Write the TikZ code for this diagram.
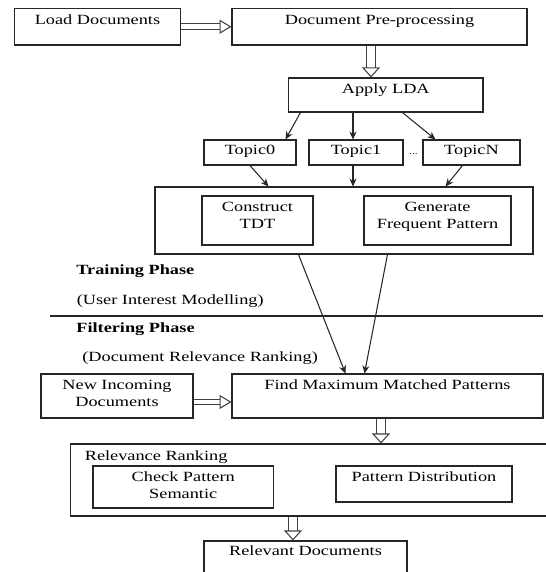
\documentclass[tikz,border=0pt]{standalone}
\usepackage{fontspec}
\setmainfont{Liberation Serif}[FakeStretch=1.3]
\usetikzlibrary{arrows.meta}

\tikzset{
  box/.style={draw=black!85, line width=0.6pt, inner sep=0pt},
  txt/.style={anchor=base, inner sep=0pt, align=center, text=black},
  arr/.style={draw=black!85, line width=0.6pt, -{Stealth[length=4.5pt,width=4pt]}},
  hollowh/.style={draw=black!75, line width=0.6pt, double=white, double distance=2.6pt, -{Triangle[open,length=6.8pt,width=8pt]}},
  hollowv/.style={draw=black!75, line width=0.6pt, double=white, double distance=5pt, -{Triangle[open,length=5.7pt,width=10.2pt]}}
}

\begin{document}
\begin{tikzpicture}[font=\fontsize{8}{9.7}\selectfont]
\useasboundingbox (0,0) rectangle (10.9,11.44);

\node[box, minimum width=3.31cm, minimum height=0.73cm] (load) at (1.95,10.905) {};
\node[box, minimum width=5.90cm, minimum height=0.73cm] (prep) at (7.59,10.905) {};
\node[box, minimum width=3.89cm, minimum height=0.68cm] (lda) at (7.715,9.54) {};
\node[box, minimum width=1.84cm, minimum height=0.50cm] (topic0) at (5.0,8.39) {};
\node[box, minimum width=1.88cm, minimum height=0.50cm] (topic1) at (7.12,8.39) {};
\node[box, minimum width=1.94cm, minimum height=0.50cm] (topicN) at (9.43,8.39) {};
\node[box, minimum width=7.56cm, minimum height=1.34cm] (train) at (6.88,7.03) {};
\node[box, minimum width=2.22cm, minimum height=0.98cm] (tdt) at (5.15,7.03) {};
\node[box, minimum width=2.94cm, minimum height=0.98cm] (gen) at (8.75,7.03) {};
\node[box, minimum width=3.04cm, minimum height=0.88cm] (new) at (2.34,3.52) {};
\node[box, minimum width=6.22cm, minimum height=0.88cm] (find) at (7.75,3.52) {};
\node[box, minimum width=9.53cm, minimum height=1.44cm] (rank) at (6.175,1.84) {};
\node[box, minimum width=3.61cm, minimum height=0.84cm] (check) at (3.665,1.70) {};
\node[box, minimum width=3.52cm, minimum height=0.72cm] (dist) at (8.48,1.76) {};
\node[box, minimum width=4.06cm, minimum height=0.68cm] (rel) at (6.11,0.28) {};

\node[txt] (loadt) at ([yshift=-0.33cm]load.north) {Load Documents};
\node[txt] (prept) at ([yshift=-0.33cm]prep.north) {Document Pre-processing};
\node[txt] (ldat) at ([yshift=-0.32cm]lda.north) {Apply LDA};
\node[txt] (topic0t) at ([yshift=-0.30cm]topic0.north) {Topic0};
\node[txt] (topic1t) at ([yshift=-0.30cm]topic1.north) {Topic1};
\node[txt] (topicNt) at ([yshift=-0.30cm]topicN.north) {TopicN};
\node[txt, font=\fontsize{5}{6}\selectfont] (dots) at (8.27,8.34) {...};
\node[txt] (tdtt) at ([yshift=-0.67cm]tdt.north) {Construct\\TDT};
\node[txt] (gent) at ([yshift=-0.67cm]gen.north) {Generate\\Frequent Pattern};
\node[txt] (newt) at ([yshift=-0.67cm]new.north) {New Incoming\\Documents};
\node[txt] (findt) at ([yshift=-0.33cm]find.north) {Find Maximum Matched Patterns};
\node[txt, anchor=base west] (rankt) at (1.69,2.228) {Relevance Ranking};
\node[txt] (checkt) at ([yshift=-0.66cm]check.north) {Check Pattern\\Semantic};
\node[txt] (distt) at ([yshift=-0.32cm]dist.north) {Pattern Distribution};
\node[txt] (relt) at ([yshift=-0.31cm]rel.north) {Relevant Documents};

\node[txt, anchor=base west, font=\fontsize{8}{9.7}\selectfont\bfseries] (trainph) at (1.52,5.948) {Training Phase};
\node[txt, anchor=base west] (trainsub) at (1.53,5.348) {(User Interest Modelling)};
\draw[black!85, line width=0.6pt] (1.008,5.12) -- (10.86,5.12);
\node[txt, anchor=base west, font=\fontsize{8}{9.7}\selectfont\bfseries] (filtph) at (1.52,4.788) {Filtering Phase};
\node[txt, anchor=base west] (filtsub) at (1.64,4.208) {(Document Relevance Ranking)};

\draw[hollowh] (load) -- (prep);
\draw[hollowv] ([xshift=-0.17cm]prep.south) -- ([xshift=-0.295cm]lda.north);
\draw[arr] ([xshift=0.25cm]lda.south west) -- ([xshift=-0.22cm]topic0.north east);
\draw[arr] ([xshift=-0.06cm]lda.south -| topic1.north) -- ([xshift=-0.06cm]topic1.north);
\draw[arr] ([xshift=2.29cm]lda.south west) -- ([xshift=0.26cm]topicN.north west);
\draw[arr] (topic0.south) -- ([xshift=2.28cm]train.north west);
\draw[arr] ([xshift=-0.06cm]topic1.south) -- ([xshift=-0.06cm]topic1.south |- train.north);
\draw[arr] ([xshift=0.80cm]topicN.south west) -- ([xshift=-1.76cm]train.north east);
\draw[arr] ([xshift=2.88cm]train.south west) -- ([xshift=2.28cm]find.north west);
\draw[arr] ([xshift=4.66cm]train.south west) -- ([xshift=2.66cm]find.north west);
\draw[hollowh] ([yshift=-0.12cm]new.east) -- ([yshift=-0.12cm]find.west);
\draw[hollowv] ([xshift=-0.13cm]find.south) -- ([xshift=-0.13cm]find.south |- rank.north);
\draw[hollowv] ([xshift=-0.315cm]rank.south) -- ([xshift=-0.25cm]rel.north);
\end{tikzpicture}
\end{document}
